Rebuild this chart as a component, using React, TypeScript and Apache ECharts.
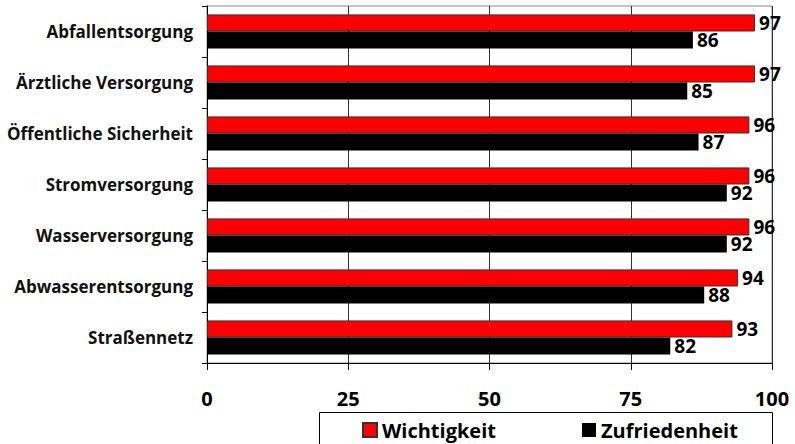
import React, { useEffect, useRef } from "react";
import * as echarts from "echarts";

const categories = [
  "Abfallentsorgung",
  "Ärztliche Versorgung",
  "Öffentliche Sicherheit",
  "Stromversorgung",
  "Wasserversorgung",
  "Abwasserentsorgung",
  "Straßennetz",
];
const wichtigkeit = [97, 97, 96, 96, 96, 94, 93];
const zufriedenheit = [86, 85, 87, 92, 92, 88, 82];
const seriesNames = ["Wichtigkeit", "Zufriedenheit"];
const xTicks = { min: 0, max: 100, interval: 25 };

const FONT = "'Open Sans', sans-serif";

export default function App() {
  const ref = useRef<HTMLDivElement>(null);
  useEffect(() => {
    if (!ref.current) return;
    const chart = echarts.init(ref.current, undefined, { renderer: "svg" });
    const labelStyle = {
      show: true,
      position: "right",
      distance: 4,
      color: "#000",
      fontFamily: FONT,
      fontWeight: "bold",
      fontSize: 19,
    };
    const legendText = {
      fontFamily: FONT,
      fontWeight: "bold",
      fontSize: 20,
      color: "#000",
    };
    chart.setOption({
      animation: false,
      backgroundColor: "#fff",
      grid: {
        left: 207,
        right: 23,
        top: 6,
        bottom: 81,
        show: true,
        borderColor: "#888",
        borderWidth: 1,
      },
      graphic: [
        {
          type: "rect",
          left: 319,
          top: 412,
          shape: { width: 453, height: 40 },
          style: { fill: "#fff", stroke: "#000", lineWidth: 1 },
          z: -1,
        },
      ],
      legend: [
        {
          data: [seriesNames[0]],
          left: 362,
          top: 420,
          padding: 0,
          icon: "rect",
          itemWidth: 14,
          itemHeight: 14,
          textStyle: legendText,
        },
        {
          data: [seriesNames[1]],
          left: 582,
          top: 420,
          padding: 0,
          icon: "rect",
          itemWidth: 14,
          itemHeight: 14,
          textStyle: legendText,
        },
      ],
      xAxis: {
        type: "value",
        min: xTicks.min,
        max: xTicks.max,
        interval: xTicks.interval,
        axisLine: { show: true, lineStyle: { color: "#000", width: 1 } },
        axisTick: { show: true, length: 7, lineStyle: { color: "#000" } },
        splitLine: { show: true, lineStyle: { color: "#333", width: 1 } },
        axisLabel: {
          margin: 25,
          color: "#000",
          fontFamily: FONT,
          fontWeight: "bold",
          fontSize: 20,
        },
      },
      yAxis: {
        type: "category",
        data: categories,
        inverse: true,
        axisLine: { show: true, lineStyle: { color: "#000", width: 1 } },
        axisTick: { show: true, length: 5, lineStyle: { color: "#000" } },
        axisLabel: {
          margin: 14,
          color: "#111",
          fontFamily: FONT,
          fontWeight: "bold",
          fontSize: 17,
        },
      },
      series: [
        {
          name: seriesNames[0],
          type: "bar",
          data: wichtigkeit,
          barGap: "0%",
          barCategoryGap: "33%",
          itemStyle: { color: "#ff0000", borderColor: "#333", borderWidth: 1 },
          label: labelStyle,
        },
        {
          name: seriesNames[1],
          type: "bar",
          data: zufriedenheit,
          barGap: "0%",
          barCategoryGap: "33%",
          itemStyle: { color: "#000" },
          label: labelStyle,
        },
      ],
    });
    return () => chart.dispose();
  }, []);
  return (
    <div
      ref={ref}
      style={{ position: "fixed", left: 0, top: 0, width: 795, height: 444 }}
    />
  );
}
